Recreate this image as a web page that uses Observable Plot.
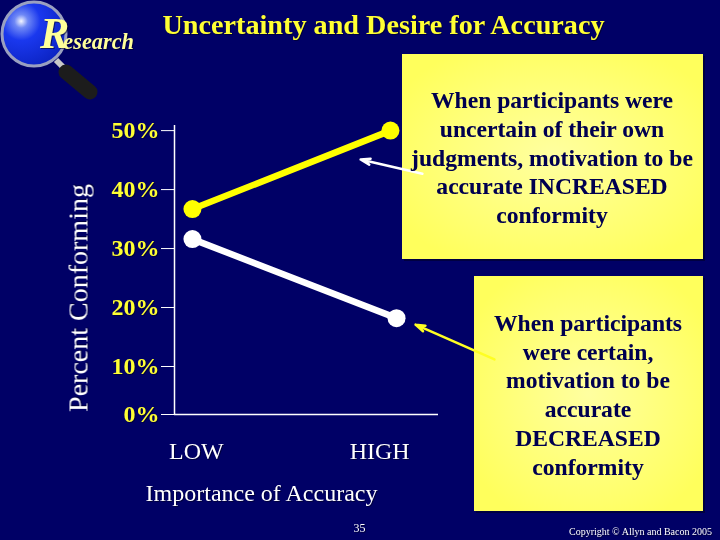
<!DOCTYPE html>
<html><head><meta charset="utf-8">
<script src="https://cdn.jsdelivr.net/npm/d3@7"></script>
<script src="https://cdn.jsdelivr.net/npm/@observablehq/plot@0.6"></script>
<style>
html,body{margin:0;padding:0;background:#000066;overflow:hidden}
svg{display:block}
svg text{filter:drop-shadow(1px 1px 0 rgba(0,0,30,.55))}
svg .boxtext text{filter:drop-shadow(.8px .8px 0 rgba(90,90,90,.3))}
</style></head><body>
<script>
// position along the horizontal axis (0 = axis start, 1 = axis end) and percent conforming
const uncertainX = [0.068, 0.818];
const uncertainY = [36.7, 50];
const certainX = [0.068, 0.841];
const certainY = [31.6, 18.2];
const yTicks = [0, 10, 20, 30, 40, 50];
const xTickLabels = ["LOW", "HIGH"];
const xTickValues = [0.083, 0.777];
const titleText = "Uncertainty and Desire for Accuracy";
const yLabel = "Percent Conforming";
const xLabel = "Importance of Accuracy";
const box1Lines = ["When participants were","uncertain of their own","judgments, motivation to be","accurate INCREASED","conformity"];
const box2Lines = ["When participants","were certain,","motivation to be","accurate","DECREASED","conformity"];

const rows = (xs, ys) => xs.map((x, i) => ({x, y: ys[i]}));
const uncertain = rows(uncertainX, uncertainY);
const certain = rows(certainX, certainY);
const serif = "'Liberation Serif','Times New Roman',serif";

function boxes() {
  const g = d3.create("svg:g");
  const defs = g.append("defs");
  const rg = defs.append("radialGradient").attr("id", "boxfill").attr("r", "0.6");
  rg.append("stop").attr("offset", "0").attr("stop-color", "#ffffa0");
  rg.append("stop").attr("offset", "1").attr("stop-color", "#ffff5c");
  const sg = defs.append("radialGradient").attr("id", "ball").attr("cx", "0.3").attr("cy", "0.3").attr("r", "0.75");
  sg.append("stop").attr("offset", "0").attr("stop-color", "#f4f6ff");
  sg.append("stop").attr("offset", "0.14").attr("stop-color", "#6f88f5");
  sg.append("stop").attr("offset", "0.4").attr("stop-color", "#1a38ee");
  sg.append("stop").attr("offset", "1").attr("stop-color", "#0c24c4");
  for (const [x, y, w, h] of [[402, 54, 301, 205], [474, 276, 229, 235]]) {
    g.append("rect").attr("x", x + 2).attr("y", y + 2).attr("width", w).attr("height", h).attr("fill", "#000040");
    g.append("rect").attr("x", x).attr("y", y).attr("width", w).attr("height", h).attr("fill", "url(#boxfill)");
  }
  // logo
  g.append("line").attr("x1", 56).attr("y1", 60).attr("x2", 64).attr("y2", 68).attr("stroke", "#c8c8c8").attr("stroke-width", 6);
  g.append("line").attr("x1", 66).attr("y1", 72).attr("x2", 90).attr("y2", 92).attr("stroke", "#1c1c1c").attr("stroke-width", 15).attr("stroke-linecap", "round");
  g.append("circle").attr("cx", 34).attr("cy", 34).attr("r", 32).attr("fill", "url(#ball)").attr("stroke", "#9aa0c0").attr("stroke-width", 3);
  return g.node();
}
function overlayText() {
  const g = d3.create("svg:g").attr("font-family", serif);
  const logo = g.append("text").attr("x", 40).attr("y", 48).attr("text-anchor", "start").attr("fill", "#ffff99").attr("font-weight", "bold").attr("font-style", "italic");
  logo.append("tspan").attr("font-size", 44).text("R");
  logo.append("tspan").attr("font-size", 22.3).attr("dx", -6).attr("dy", 1).text("esearch");
  const bt = g.append("g").attr("class", "boxtext").attr("font-weight", "bold").attr("fill", "#000050").attr("font-size", 23.6).attr("text-anchor", "middle");
  box1Lines.forEach((s, i) => bt.append("text").text(s).attr("x", 552).attr("y", 108 + i * 28.8));
  box2Lines.forEach((s, i) => bt.append("text").text(s).attr("x", 588).attr("y", 331 + i * 28.7));
  return g.node();
}

const plot = Plot.plot({
  width: 720, height: 540,
  marginLeft: 174, marginRight: 282, marginTop: 125, marginBottom: 126,
  style: {background: "#000066", color: "white", fontFamily: serif},
  x: {domain: [0, 1], axis: null},
  y: {type: "linear", domain: [0, 10, 50.85], range: [414, 366, 125.1], axis: null},
  marks: [
    boxes,
    Plot.ruleY([0], {x1: 0, x2: 1, stroke: "white", strokeWidth: 1.5}),
    Plot.ruleX([0], {y1: 0, y2: 50.85, stroke: "white", strokeWidth: 1.5}),
    Plot.axisY({ticks: yTicks, tickSize: 13, tickPadding: 2, tickFormat: d => d + "%", stroke: "white", fill: "#ffff33",
      fontSize: 24, fontWeight: "bold", label: null}),
    Plot.axisX({ticks: xTickValues, tickSize: 0, tickPadding: 27, tickFormat: d => xTickLabels[xTickValues.indexOf(d)], fill: "white", fontSize: 24, label: null}),
    Plot.line(uncertain, {x: "x", y: "y", stroke: "#ffff00", strokeWidth: 6.5}),
    Plot.dot(uncertain, {x: "x", y: "y", r: 9, fill: "#ffff00"}),
    Plot.line(certain, {x: "x", y: "y", stroke: "white", strokeWidth: 6.5}),
    Plot.dot(certain, {x: "x", y: "y", r: 9, fill: "white"}),
    Plot.arrow([0], {x1: () => 0.939, y1: () => 42.7, x2: () => 0.705, y2: () => 45.1, stroke: "white", strokeWidth: 2.5, headLength: 6, headAngle: 35}),
    Plot.arrow([0], {x1: () => 1.212, y1: () => 11.2, x2: () => 0.913, y2: () => 17.1, stroke: "#ffff22", strokeWidth: 2.5, headLength: 6, headAngle: 35}),
    overlayText,
    Plot.text([titleText], {text: d => d, frameAnchor: "top", dx: 77, dy: -112, fill: "#ffff33", fontSize: 28.2, fontWeight: "bold"}),
    Plot.text([yLabel], {text: d => d, frameAnchor: "left", textAnchor: "middle", dx: -96, dy: 28, rotate: -90, fill: "white", fontSize: 28}),
    Plot.text([xLabel], {text: d => d, frameAnchor: "bottom", dx: -45, dy: 86, fill: "white", fontSize: 24}),
    Plot.text(["35"], {text: d => d, frameAnchor: "bottom", dx: 53, dy: 117, fill: "white", fontSize: 12}),
    Plot.text(["Copyright © Allyn and Bacon 2005"], {text: d => d, frameAnchor: "bottom", dx: 334, dy: 120, fill: "white", fontSize: 10})
  ]
});
document.body.append(plot);
</script></body></html>
